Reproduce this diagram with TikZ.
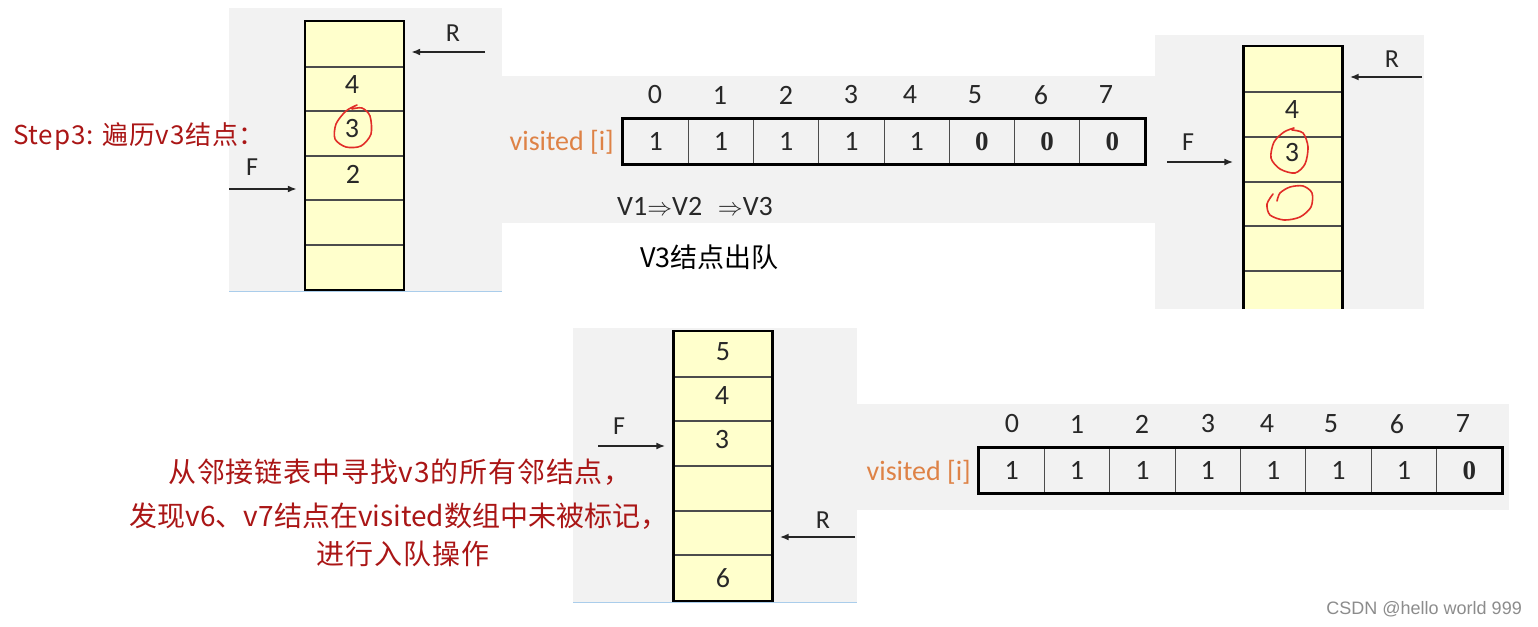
\documentclass[tikz,border=0pt]{standalone}
\usepackage{fontspec}
\setmainfont{Carlito}
\newfontfamily\cjk{Noto Sans CJK SC}
\newfontfamily\cjkr{Noto Sans CJK SC}[LetterSpace=3]
\newfontfamily\tnr{Liberation Serif}
\newfontfamily\wm{Liberation Sans}
\usetikzlibrary{arrows.meta}
\definecolor{panel}{RGB}{242,242,242}
\definecolor{qyel}{RGB}{255,255,204}
\definecolor{hred}{RGB}{170,22,22}
\definecolor{cred}{RGB}{225,45,40}
\definecolor{vorange}{RGB}{222,130,70}
\definecolor{bline}{RGB}{170,205,235}
\definecolor{ink}{RGB}{40,40,40}
\definecolor{wmgray}{RGB}{140,140,140}
\tikzset{
  queue/.style={fill=qyel, draw=none, minimum width=99pt, inner sep=0pt},
  qborder/.style={draw=black, line width=2.5pt},
  qline/.style={draw=black!70, line width=1.5pt},
  qnum/.style={font=\fontsize{28}{28}\selectfont, text=ink, inner sep=0pt},
  lbl/.style={font=\fontsize{26}{26}\selectfont, text=ink, inner sep=0pt},
  ptr/.style={-{Latex[length=9pt,width=7pt]}, line width=2pt, draw=black!85},
  acell/.style={draw=black!70, line width=1pt, minimum height=45pt, inner sep=0pt, font=\fontsize{28}{28}\selectfont, text=ink},
  aouter/.style={draw=black, line width=2.5pt},
  idx/.style={font=\fontsize{28}{28}\selectfont, text=ink, inner sep=0pt},
  zero/.style={font=\tnr\bfseries\fontsize{27}{27}\selectfont},
  vlab/.style={font=\fontsize{28}{28}\selectfont, text=vorange, inner sep=0pt, anchor=east},
  redtxt/.style={font=\cjkr\fontsize{28}{28}\selectfont, text=hred, inner sep=0pt},
  circ/.style={draw=cred, line width=1.6pt, line cap=round, line join=round},
}
\begin{document}
\begin{tikzpicture}[x=1pt,y=-1pt]
\useasboundingbox (0,0) rectangle (1538,626);
\fill[white] (0,0) rectangle (1538,626);
% panels
\fill[panel] (229,8) rectangle (502,291);
\fill[panel] (502,76) rectangle (1155,223);
\fill[panel] (1155,35) rectangle (1424,309);
\fill[panel] (573,328) rectangle (857,602);
\fill[panel] (857,404) rectangle (1509,510);
\draw[bline, line width=1pt] (229,291) -- (502,291);
\draw[bline, line width=1pt] (573,602) -- (857,602);

% ---------- queue 1 (top left)
\node[queue, minimum height=269pt] (q1) at (354.5,155.5) {};
\foreach \y in {67,111,156,200,245} \draw[qline] (306,\y) -- (403,\y);
\draw[qborder] (q1.north west) rectangle (q1.south east);
\node[qnum] (q1a) at (352,85) {4};
\node[qnum] (q1b) at (352,129) {3};
\node[qnum] (q1c) at (353,174) {2};
\draw[circ] plot[smooth] coordinates {(357,105) (346,111) (336,124) (335,139) (346,147) (361,146) (371,134) (370,116) (362,108) (352,109)};
\coordinate (r1s) at (485,52);
\coordinate (f1s) at (229,189);
\draw[ptr, shorten >=7pt] (r1s) -- (q1.east |- r1s);
\draw[ptr, shorten >=8pt] (f1s) -- (q1.west |- f1s);
\node[lbl] (r1l) at (453,33) {R};
\node[lbl] (f1l) at (252,167) {F};

% ---------- step text
\node[redtxt, anchor=west, font=\cjkr\fontsize{26}{26}\selectfont] (step) at (13,137) {Step3: 遍历v3结点：};

% ---------- top array
\node[vlab] (v1l) at (614,142) {visited [i]};
\foreach \i/\v in {0/1,1/1,2/1,3/1,4/1}
  \node[acell, minimum width=65.25pt] (a\i) at ({623+65.25*(\i+0.5)},141.5) {\v};
\foreach \i in {5,6,7}
  \node[acell, minimum width=65.25pt, zero] (a\i) at ({623+65.25*(\i+0.5)},141.5) {0};
\draw[aouter] (a0.north west) rectangle (a7.south east);
\foreach \x [count=\k from 0] in {655,720,786,851,910,975,1041,1106}
  \node[idx] (ai\k) at (\x,95) {\k};
\node[anchor=west, inner sep=0pt, text=ink, font=\fontsize{28}{28}\selectfont] (path) at (617,207) {V1$\Rightarrow$V2\,\, $\Rightarrow$V3};
\node[anchor=west, inner sep=0pt, text=black, font=\cjk\fontsize{27}{27}\selectfont] (deq) at (640,257) {V3结点出队};

% ---------- queue 2 (top right)
\node[queue, minimum height=263pt] (q2) at (1293,177.5) {};
\foreach \y in {92,137,182,226,271} \draw[qline] (1244,\y) -- (1342,\y);
\draw[qborder] (q2.south west) -- (q2.north west) -- (q2.north east) -- (q2.south east);
\node[qnum] (q2a) at (1292,110) {4};
\node[qnum] (q2b) at (1292,153) {3};
\draw[circ] plot[smooth] coordinates {(1294,128) (1284,132) (1274,142) (1271,158) (1280,169) (1295,173) (1305,164) (1308,147) (1303,133) (1292,130)};
\draw[circ] plot[smooth] coordinates {(1277,201) (1280,193) (1290,187) (1303,186) (1312,193) (1311,207) (1300,217) (1284,220) (1270,215) (1267,204) (1273,194)};
\coordinate (r2s) at (1422,77);
\coordinate (f2s) at (1167,162);
\draw[ptr, shorten >=7pt] (r2s) -- (q2.east |- r2s);
\draw[ptr, shorten >=10pt] (f2s) -- (q2.west |- f2s);
\node[lbl] (r2l) at (1392,59) {R};
\node[lbl] (f2l) at (1188,142) {F};

% ---------- queue 3 (bottom)
\node[queue, minimum height=270pt] (q3) at (723,466) {};
\foreach \y in {377,421,466,511,555} \draw[qline] (674,\y) -- (772,\y);
\draw[qborder] (q3.north west) rectangle (q3.south east);
\node[qnum] (q3a) at (723,352) {5};
\node[qnum] (q3b) at (722,396) {4};
\node[qnum] (q3c) at (722,440) {3};
\node[qnum] (q3d) at (723,578) {6};
\coordinate (f3s) at (598,446);
\coordinate (r3s) at (855,537);
\draw[ptr, shorten >=8pt] (f3s) -- (q3.west |- f3s);
\draw[ptr, shorten >=7pt] (r3s) -- (q3.east |- r3s);
\node[lbl] (f3l) at (619,426) {F};
\node[lbl] (r3l) at (823,520) {R};

% ---------- bottom array
\node[vlab] (v2l) at (971,472) {visited [i]};
\foreach \i in {0,...,6}
  \node[acell, minimum width=65.375pt] (b\i) at ({979+65.375*(\i+0.5)},470.5) {1};
\node[acell, minimum width=65.375pt, zero] (b7) at ({979+65.375*7.5},470.5) {0};
\draw[aouter] (b0.north west) rectangle (b7.south east);
\foreach \x [count=\k from 0] in {1012,1077,1142,1208,1267,1331,1397,1463}
  \node[idx] (bi\k) at (\x,424) {\k};

% ---------- red explanation
\node[redtxt] (t1) at (400,472) {从邻接链表中寻找v3的所有邻结点，};
\node[redtxt, font=\cjk\fontsize{28}{28}\selectfont] (t2) at (399,516) {发现v6、v7结点在visited数组中未被标记，};
\node[redtxt] (t3) at (403,554) {进行入队操作};

% ---------- watermark
\node[anchor=east, inner sep=0pt, text=wmgray, font=\wm\fontsize{18}{18}\selectfont] (wm) at (1522,609) {CSDN @hello world 999};
\end{tikzpicture}
\end{document}
